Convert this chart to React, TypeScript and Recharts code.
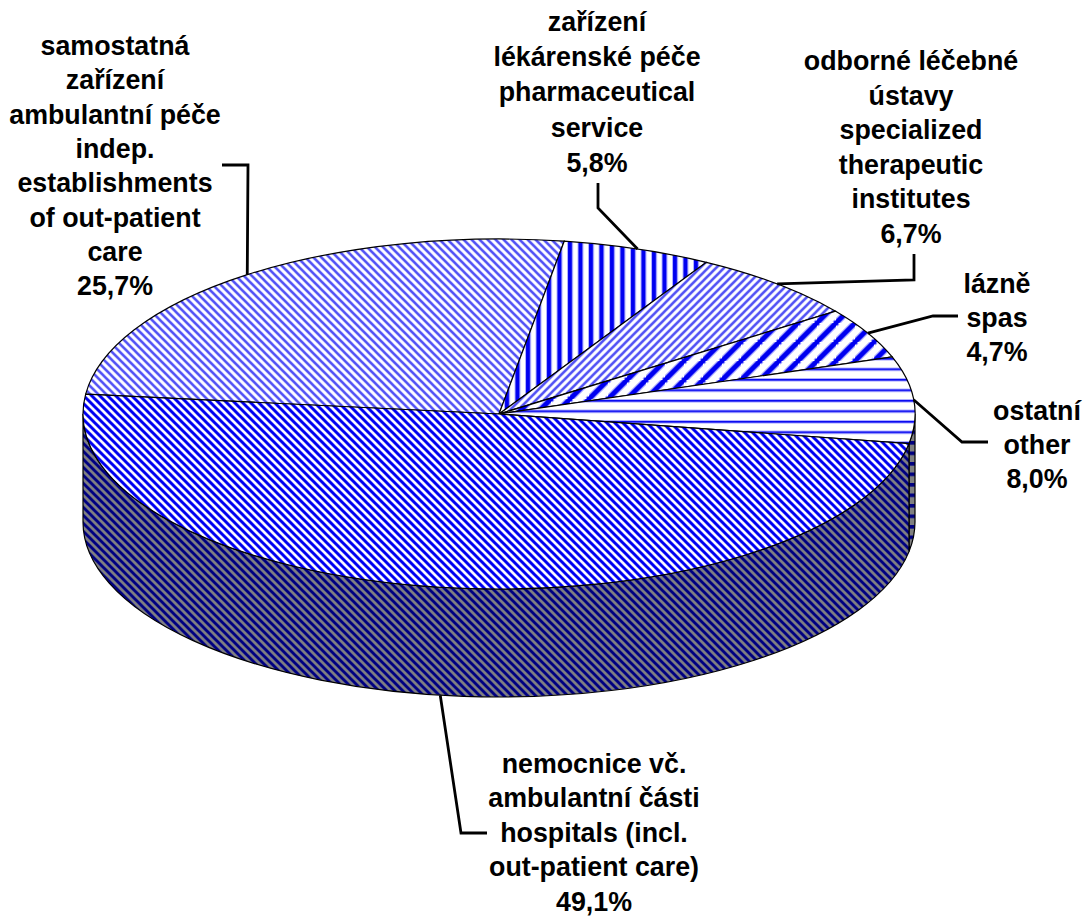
import { Pie, PieChart } from "recharts";

const WIDTH = 1083;
const HEIGHT = 916;
const CX = 499;
const CY = 414;
const RX = 416;
const RY = 175;
const DEPTH = 108;
const TILT = RY / RX;

const values = [25.7, 5.8, 6.7, 4.7, 8.0, 49.1];
const czechNames = [
  ["samostatná", "zařízení", "ambulantní péče"],
  ["zařízení", "lékárenské péče"],
  ["odborné léčebné", "ústavy"],
  ["lázně"],
  ["ostatní"],
  ["nemocnice vč.", "ambulantní části"],
];
const englishNames = [
  ["indep.", "establishments", "of out-patient", "care"],
  ["pharmaceutical", "service"],
  ["specialized", "therapeutic", "institutes"],
  ["spas"],
  ["other"],
  ["hospitals (incl.", "out-patient care)"],
];
const topPatterns = ["top-indep", "top-pharm", "top-inst", "top-spas", "top-other", "top-hosp"];
const wallPatterns = ["wall-hosp", "wall-hosp", "wall-hosp", "wall-hosp", "wall-other", "wall-hosp"];

// where each label block sits and how its leader runs
const labelX = [115, 597, 911, 997, 1037, 594];
const labelY = [46, 22, 61, 284, 411, 764];
const lineGap = [34.3, 35.2, 34.5, 34, 34, 34.4];
const leaderElbows = [
  [[248, 165], [222, 165]],
  [[598, 208], [598, 183]],
  [[914, 280], [914, 254]],
  [[933, 316], [958, 316]],
  [[962, 442], [988, 442]],
  [[461, 833], [487, 833]],
];

const pieData = values.map((value, i) => ({
  name: czechNames[i].join(" "),
  value,
  top: `url(#${topPatterns[i]})`,
  wall: `url(#${wallPatterns[i]})`,
}));

const pointAt = (cx: number, cy: number, r: number, deg: number) => {
  const a = (deg * Math.PI) / 180;
  return [cx + r * Math.cos(a), cy - r * TILT * Math.sin(a)];
};

function TopSlice(props: any) {
  const { cx, cy, outerRadius: r, startAngle, endAngle, payload } = props;
  const [x0, y0] = pointAt(cx, cy, r, startAngle);
  const [x1, y1] = pointAt(cx, cy, r, endAngle);
  const large = Math.abs(startAngle - endAngle) > 180 ? 1 : 0;
  const d = `M${cx},${cy}L${x0},${y0}A${r},${r * TILT} 0 ${large} 1 ${x1},${y1}Z`;
  return <path d={d} fill={payload.top} stroke="#000" strokeWidth={1.2} />;
}

function WallSlice(props: any) {
  const { cx, cy, outerRadius: r, startAngle, endAngle, payload } = props;
  // only the part of the rim facing the viewer
  const from = Math.min(startAngle, 0);
  const to = Math.max(endAngle, -180);
  if (from <= to) return null;
  const [x0, y0] = pointAt(cx, cy, r, from);
  const [x1, y1] = pointAt(cx, cy, r, to);
  const ry = r * TILT;
  const d = `M${x0},${y0}A${r},${ry} 0 0 1 ${x1},${y1}L${x1},${y1 + DEPTH}A${r},${ry} 0 0 0 ${x0},${y0 + DEPTH}Z`;
  return <path d={d} fill={payload.wall} stroke="#000" strokeWidth={1.2} />;
}

function SliceLabel(props: any) {
  const { cx, cy, outerRadius: r, midAngle, index, value } = props;
  const [x, y] = pointAt(cx, cy, r, midAngle);
  const anchorY = index === 5 ? y + DEPTH : y;
  const points = [[x, anchorY], ...leaderElbows[index]].map((p) => p.join(",")).join(" ");
  const lines = [
    ...czechNames[index],
    ...englishNames[index],
    `${Number(value).toFixed(1).replace(".", ",")}%`,
  ];
  return (
    <g>
      <polyline points={points} fill="none" stroke="#000" strokeWidth={2.8} />
      <text
        textAnchor="middle"
        fontFamily="Liberation Sans"
        fontWeight="bold"
        fontSize={26.8}
        fill="#000"
      >
        {lines.map((line, i) => (
          <tspan key={i} x={labelX[index]} y={labelY[index] + i * lineGap[index] + 9}>
            {line}
          </tspan>
        ))}
      </text>
    </g>
  );
}

function diagonal(size: number, forward: boolean) {
  const s = size;
  return forward
    ? `M-1,${s + 1}L${s + 1},-1M-1,1L1,-1M${s - 1},${s + 1}L${s + 1},${s - 1}`
    : `M-1,-1L${s + 1},${s + 1}M-1,${s - 1}L1,${s + 1}M${s - 1},-1L${s + 1},1`;
}

function DiagonalPattern({ id, size, back, edge, edgeW, ink, inkW, forward }: any) {
  const d = diagonal(size, forward);
  return (
    <pattern id={id} width={size} height={size} patternUnits="userSpaceOnUse">
      <rect width={size} height={size} fill={back} />
      <path d={d} stroke={edge} strokeWidth={edgeW} fill="none" />
      <path d={d} stroke={ink} strokeWidth={inkW} fill="none" />
    </pattern>
  );
}

export default function App() {
  return (
    <div style={{ position: "absolute", left: 0, top: 0, width: WIDTH, height: HEIGHT, background: "#fff" }}>
      <PieChart width={WIDTH} height={HEIGHT} margin={{ top: 0, right: 0, bottom: 0, left: 0 }}>
        <defs>
          <DiagonalPattern id="top-indep" size={8} back="#fff" edge="#c0c0ff" edgeW={3.4} ink="#5050f4" inkW={2} />
          <DiagonalPattern id="top-inst" size={8} back="#fff" edge="#c0c0ff" edgeW={3.4} ink="#5050f4" inkW={2} forward />
          <DiagonalPattern id="top-hosp" size={8} back="#fff" edge="#9090ff" edgeW={3.6} ink="#0000f0" inkW={2.6} />
          <DiagonalPattern id="top-spas" size={19} back="#fff" edge="#a0a0ff" edgeW={7} ink="#0000f0" inkW={4.6} forward />
          <DiagonalPattern id="wall-hosp" size={8} back="#808080" edge="#50508a" edgeW={3.6} ink="#000080" inkW={2.6} />
          <pattern id="top-pharm" width={10.5} height={10.5} patternUnits="userSpaceOnUse">
            <rect width={10.5} height={10.5} fill="#fff" />
            <rect x={0} width={6} height={10.5} fill="#b4b4ff" />
            <rect x={1} width={4} height={10.5} fill="#0000f0" />
          </pattern>
          <pattern id="top-other" width={10.5} height={10.5} patternUnits="userSpaceOnUse">
            <rect width={10.5} height={10.5} fill="#fff" />
            <rect y={0} width={10.5} height={3.6} fill="#b4b4ff" />
            <rect y={1} width={10.5} height={1.6} fill="#0000f0" />
          </pattern>
          <pattern id="wall-other" width={10.5} height={10.5} patternUnits="userSpaceOnUse">
            <rect width={10.5} height={10.5} fill="#808080" />
            <rect y={0} width={10.5} height={3.6} fill="#000080" />
          </pattern>
        </defs>
        <Pie
          data={pieData}
          dataKey="value"
          nameKey="name"
          cx={CX}
          cy={CY}
          outerRadius={RX}
          startAngle={173.5}
          endAngle={-186.5}
          shape={WallSlice}
          isAnimationActive={false}
        />
        <Pie
          data={pieData}
          dataKey="value"
          nameKey="name"
          cx={CX}
          cy={CY}
          outerRadius={RX}
          startAngle={173.5}
          endAngle={-186.5}
          shape={TopSlice}
          label={SliceLabel}
          labelLine={false}
          isAnimationActive={false}
        />
      </PieChart>
    </div>
  );
}
